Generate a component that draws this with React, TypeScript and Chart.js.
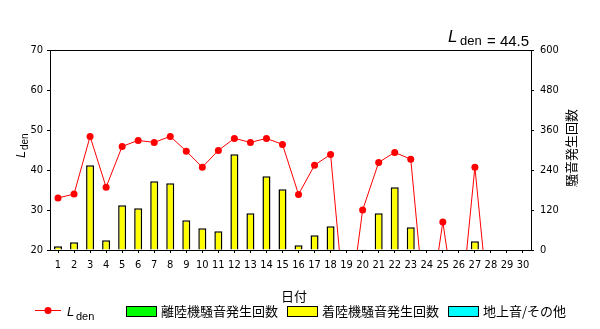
import React, { useEffect, useRef } from "react";
import { Chart, registerables } from "chart.js";

Chart.register(...registerables);

const days = Array.from({ length: 30 }, (_, i) => String(i + 1));
const lden = [33, 34, 48.4, 35.7, 45.9, 47.4, 46.9, 48.4, 44.7, 40.7, 44.9, 47.9, 46.9, 47.9, 46.4, 33.9, 41.2, 43.9, 0, 30, 41.9, 44.4, 42.7, 0, 27, 0, 40.7, 0, 0, 0];
const departures = [0, 0, 0, 0, 0, 0, 0, 0, 0, 0, 1, 0, 0, 0, 0, 0, 0, 1, 0, 2, 0, 0, 0, 0, 0, 0, 0, 0, 0, 0];
const arrivals = [11, 23, 254, 29, 134, 125, 206, 200, 89, 65, 55, 287, 110, 221, 182, 14, 44, 70, 0, 0, 110, 188, 68, 0, 0, 0, 26, 0, 0, 0];
const ground = [0, 0, 0, 0, 0, 0, 0, 0, 0, 0, 0, 0, 0, 0, 0, 0, 0, 0, 0, 0, 0, 0, 0, 0, 0, 0, 0, 0, 0, 0];
const ldenAverage = "44.5";
const leftTicks = { min: 20, max: 70, step: 10 };
const rightTicks = { min: 0, max: 600, step: 120 };

const NARROW = "'Liberation Sans Narrow', 'DejaVu Sans Condensed', 'Liberation Sans', sans-serif";
const SANS = "'Liberation Sans', Arial, sans-serif";
const JP = "'Noto Sans CJK JP', sans-serif";

const overlay = {
  id: "overlay",
  afterDraw(chart: any) {
    const ctx = chart.ctx as CanvasRenderingContext2D;
    const a = chart.chartArea;
    ctx.save();
    // top border
    ctx.strokeStyle = "#000";
    ctx.lineWidth = 1;
    ctx.beginPath();
    ctx.moveTo(a.left, Math.round(a.top) + 0.5);
    ctx.lineTo(a.right, Math.round(a.top) + 0.5);
    ctx.stroke();

    ctx.fillStyle = "#000";
    ctx.textBaseline = "alphabetic";
    // Lden = 44.5 title
    ctx.textAlign = "left";
    ctx.font = `italic 17px ${SANS}`;
    ctx.fillText("L", 448, 42);
    ctx.font = `13px ${SANS}`;
    ctx.fillText("den", 460, 45);
    ctx.font = `15px ${SANS}`;
    ctx.fillText("= " + ldenAverage, 487, 46);

    // left axis title (rotated)
    ctx.save();
    ctx.translate(25, 158);
    ctx.rotate(-Math.PI / 2);
    ctx.font = `italic 13px ${SANS}`;
    ctx.fillText("L", 0, 0);
    ctx.font = `10px ${SANS}`;
    ctx.fillText("den", 8, 3);
    ctx.restore();

    // right axis title
    ctx.save();
    ctx.translate(576, 148);
    ctx.rotate(-Math.PI / 2);
    ctx.textAlign = "center";
    ctx.font = `13px ${JP}`;
    ctx.fillText("騒音発生回数", 0, 0);
    ctx.restore();

    // x axis title
    ctx.textAlign = "center";
    ctx.font = `13px ${JP}`;
    ctx.fillText("日付", 294, 301);

    // legend
    ctx.textAlign = "left";
    ctx.strokeStyle = "#ff0000";
    ctx.beginPath();
    ctx.moveTo(35, 310.5);
    ctx.lineTo(61, 310.5);
    ctx.stroke();
    ctx.fillStyle = "#ff0000";
    ctx.beginPath();
    ctx.arc(48, 310.5, 3.5, 0, Math.PI * 2);
    ctx.fill();
    ctx.fillStyle = "#000";
    ctx.font = `italic 13px ${SANS}`;
    ctx.fillText("L", 67, 316);
    ctx.font = `11px ${SANS}`;
    ctx.fillText("den", 76, 320);

    const items = [
      { x: 126, color: "#00ff00", label: "離陸機騒音発生回数" },
      { x: 287, color: "#ffff00", label: "着陸機騒音発生回数" },
      { x: 448, color: "#00ffff", label: "地上音/その他" },
    ];
    ctx.font = `13px ${JP}`;
    for (const it of items) {
      ctx.fillStyle = it.color;
      ctx.fillRect(it.x, 306, 30, 11);
      ctx.strokeStyle = "#000";
      ctx.strokeRect(it.x + 0.5, 306.5, 30, 10);
      ctx.fillStyle = "#000";
      ctx.fillText(it.label, it.x + 35, 316);
    }
    ctx.restore();
  },
};

export default function App() {
  const ref = useRef<HTMLCanvasElement | null>(null);
  useEffect(() => {
    if (!ref.current) return;
    const tickFont = { family: NARROW, size: 11 };
    const chart = new Chart(ref.current, {
      type: "bar",
      data: {
        labels: days,
        datasets: [
          {
            type: "line",
            label: "Lden",
            data: lden,
            yAxisID: "y",
            borderColor: "#ff0000",
            backgroundColor: "#ff0000",
            borderWidth: 1,
            pointRadius: 3.5,
            pointBorderWidth: 0,
            pointBackgroundColor: "#ff0000",
            tension: 0,
            order: 0,
          } as any,
          {
            label: "離陸機騒音発生回数",
            data: departures,
            yAxisID: "y2",
            backgroundColor: "#00ff00",
            borderColor: "#000",
            borderWidth: 1.5,
            stack: "s",
            order: 1,
          },
          {
            label: "着陸機騒音発生回数",
            data: arrivals,
            yAxisID: "y2",
            backgroundColor: "#ffff00",
            borderColor: "#000",
            borderWidth: 1.5,
            stack: "s",
            order: 1,
          },
          {
            label: "地上音/その他",
            data: ground,
            yAxisID: "y2",
            backgroundColor: "#00ffff",
            borderColor: "#000",
            borderWidth: 1.5,
            stack: "s",
            order: 1,
          },
        ],
      },
      options: {
        animation: false,
        responsive: false,
        maintainAspectRatio: false,
        layout: { padding: { top: 50, left: 0, right: 0, bottom: 0 } },
        datasets: { bar: { barPercentage: 0.5, categoryPercentage: 1 } },
        plugins: { legend: { display: false }, tooltip: { enabled: false } },
        scales: {
          x: {
            stacked: true,
            grid: { display: true, drawOnChartArea: false, drawTicks: true, tickLength: 3, color: "#000", offset: false },
            border: { display: true, color: "#000", width: 1 },
            ticks: { color: "#000", font: tickFont, padding: 6, maxRotation: 0, autoSkip: false },
            afterFit: (s: any) => { s.height = 79; },
          },
          y: {
            position: "left",
            min: leftTicks.min,
            max: leftTicks.max,
            ticks: { stepSize: leftTicks.step, color: "#000", font: tickFont, padding: 4 },
            grid: { display: true, drawOnChartArea: false, drawTicks: true, tickLength: 3, color: "#000" },
            border: { display: true, color: "#000", width: 1 },
            afterFit: (s: any) => { s.width = 50; },
          },
          y2: {
            position: "right",
            stacked: true,
            min: rightTicks.min,
            max: rightTicks.max,
            ticks: { stepSize: rightTicks.step, color: "#000", font: tickFont, padding: 6 },
            grid: { display: true, drawOnChartArea: false, drawTicks: true, tickLength: 3, color: "#000" },
            border: { display: true, color: "#000", width: 1 },
            afterFit: (s: any) => { s.width = 69; },
          },
        },
      },
      plugins: [overlay],
    });
    return () => chart.destroy();
  }, []);
  return (
    <div style={{ position: "fixed", left: 0, top: 0, width: 600, height: 329, background: "#fff" }}>
      <canvas ref={ref} width={600} height={329} style={{ display: "block" }} />
    </div>
  );
}
